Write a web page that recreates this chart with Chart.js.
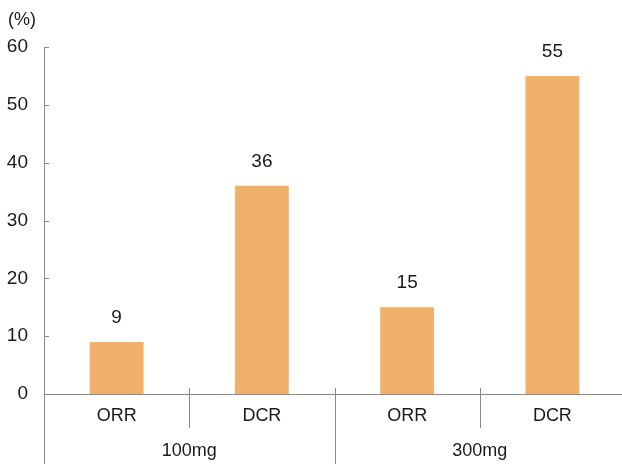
<!DOCTYPE html>
<html>
<head>
<meta charset="utf-8">
<script src="https://cdn.jsdelivr.net/npm/chart.js@4"></script>
<style>
    html, body { margin: 0; padding: 0; background: #fff; overflow: hidden; }
    #wrap { width: 625px; height: 464px; }
</style>
</head>
<body>
<div id="wrap"><canvas id="responseChart" width="625" height="464"></canvas></div>
<script>
// Chart values
const categories = ['ORR', 'DCR', 'ORR', 'DCR'];
const doseGroups = ['100mg', '300mg'];
const responseRates = [9, 36, 15, 55];
const yTicks = [0, 10, 20, 30, 40, 50, 60];

const barColor = '#F0B16A';
const axisColor = '#8a8a8a';
const textColor = '#1a1a1a';
const fontFamily = '"Liberation Sans", Arial, sans-serif';

// Value labels above bars, axis ticks, separators and dose group labels
const extrasPlugin = {
    id: 'extras',
    afterDatasetsDraw(chart) {
        const ctx = chart.ctx;
        const area = chart.chartArea;
        const x = chart.scales.x;
        const y = chart.scales.y;

        ctx.save();
        ctx.fillStyle = textColor;
        ctx.font = '19px ' + fontFamily;
        ctx.textAlign = 'center';
        ctx.textBaseline = 'middle';
        chart.getDatasetMeta(0).data.forEach((bar, i) => {
            ctx.fillText(String(responseRates[i]), bar.x, bar.y - 24);
        });

        ctx.strokeStyle = axisColor;
        ctx.lineWidth = 1;

        // small ticks inside the y axis
        yTicks.forEach(v => {
            const py = Math.round(y.getPixelForValue(v)) + 0.5;
            ctx.beginPath();
            ctx.moveTo(area.left, py);
            ctx.lineTo(area.left + 5, py);
            ctx.stroke();
        });

        // y axis line runs down through the label rows
        const lx = Math.round(area.left) + 0.5;
        ctx.beginPath();
        ctx.moveTo(lx, area.bottom);
        ctx.lineTo(lx, chart.height);
        ctx.stroke();

        // separators between categories
        for (let i = 0; i < categories.length - 1; i++) {
            const sx = Math.round((x.getPixelForValue(i) + x.getPixelForValue(i + 1)) / 2) + 0.5;
            const bottom = (i % 2 === 1) ? chart.height : area.bottom + 34;
            ctx.beginPath();
            ctx.moveTo(sx, area.bottom - 6);
            ctx.lineTo(sx, bottom);
            ctx.stroke();
        }

        // dose group labels
        ctx.font = '18px ' + fontFamily;
        doseGroups.forEach((g, gi) => {
            const gx = (x.getPixelForValue(gi * 2) + x.getPixelForValue(gi * 2 + 1)) / 2;
            ctx.fillText(g, gx, 451);
        });

        // unit label
        ctx.textAlign = 'left';
        ctx.fillText('(%)', 8, 20);
        ctx.restore();
    }
};

const ctx = document.getElementById('responseChart');
new Chart(ctx, {
    type: 'bar',
    data: {
        labels: categories,
        datasets: [{
            data: responseRates,
            backgroundColor: barColor,
            borderWidth: 0,
            categoryPercentage: 1,
            barPercentage: 0.371
        }]
    },
    options: {
        responsive: false,
        animation: false,
        layout: { padding: { top: 47, right: 0, bottom: 0, left: 0 } },
        plugins: {
            legend: { display: false },
            tooltip: { enabled: false }
        },
        scales: {
            x: {
                grid: { display: false, drawTicks: false },
                border: { color: axisColor, width: 1 },
                ticks: {
                    color: textColor,
                    font: { family: fontFamily, size: 18 },
                    padding: 11,
                    maxRotation: 0
                },
                afterFit(scale) { scale.height = 70; }
            },
            y: {
                min: 0,
                max: 60,
                grid: { display: false, drawTicks: false },
                border: { color: axisColor, width: 1 },
                ticks: {
                    stepSize: 10,
                    color: textColor,
                    font: { family: fontFamily, size: 19 },
                    padding: 16
                },
                afterFit(scale) { scale.width = 44; }
            }
        }
    },
    plugins: [extrasPlugin]
});
</script>
</body>
</html>
